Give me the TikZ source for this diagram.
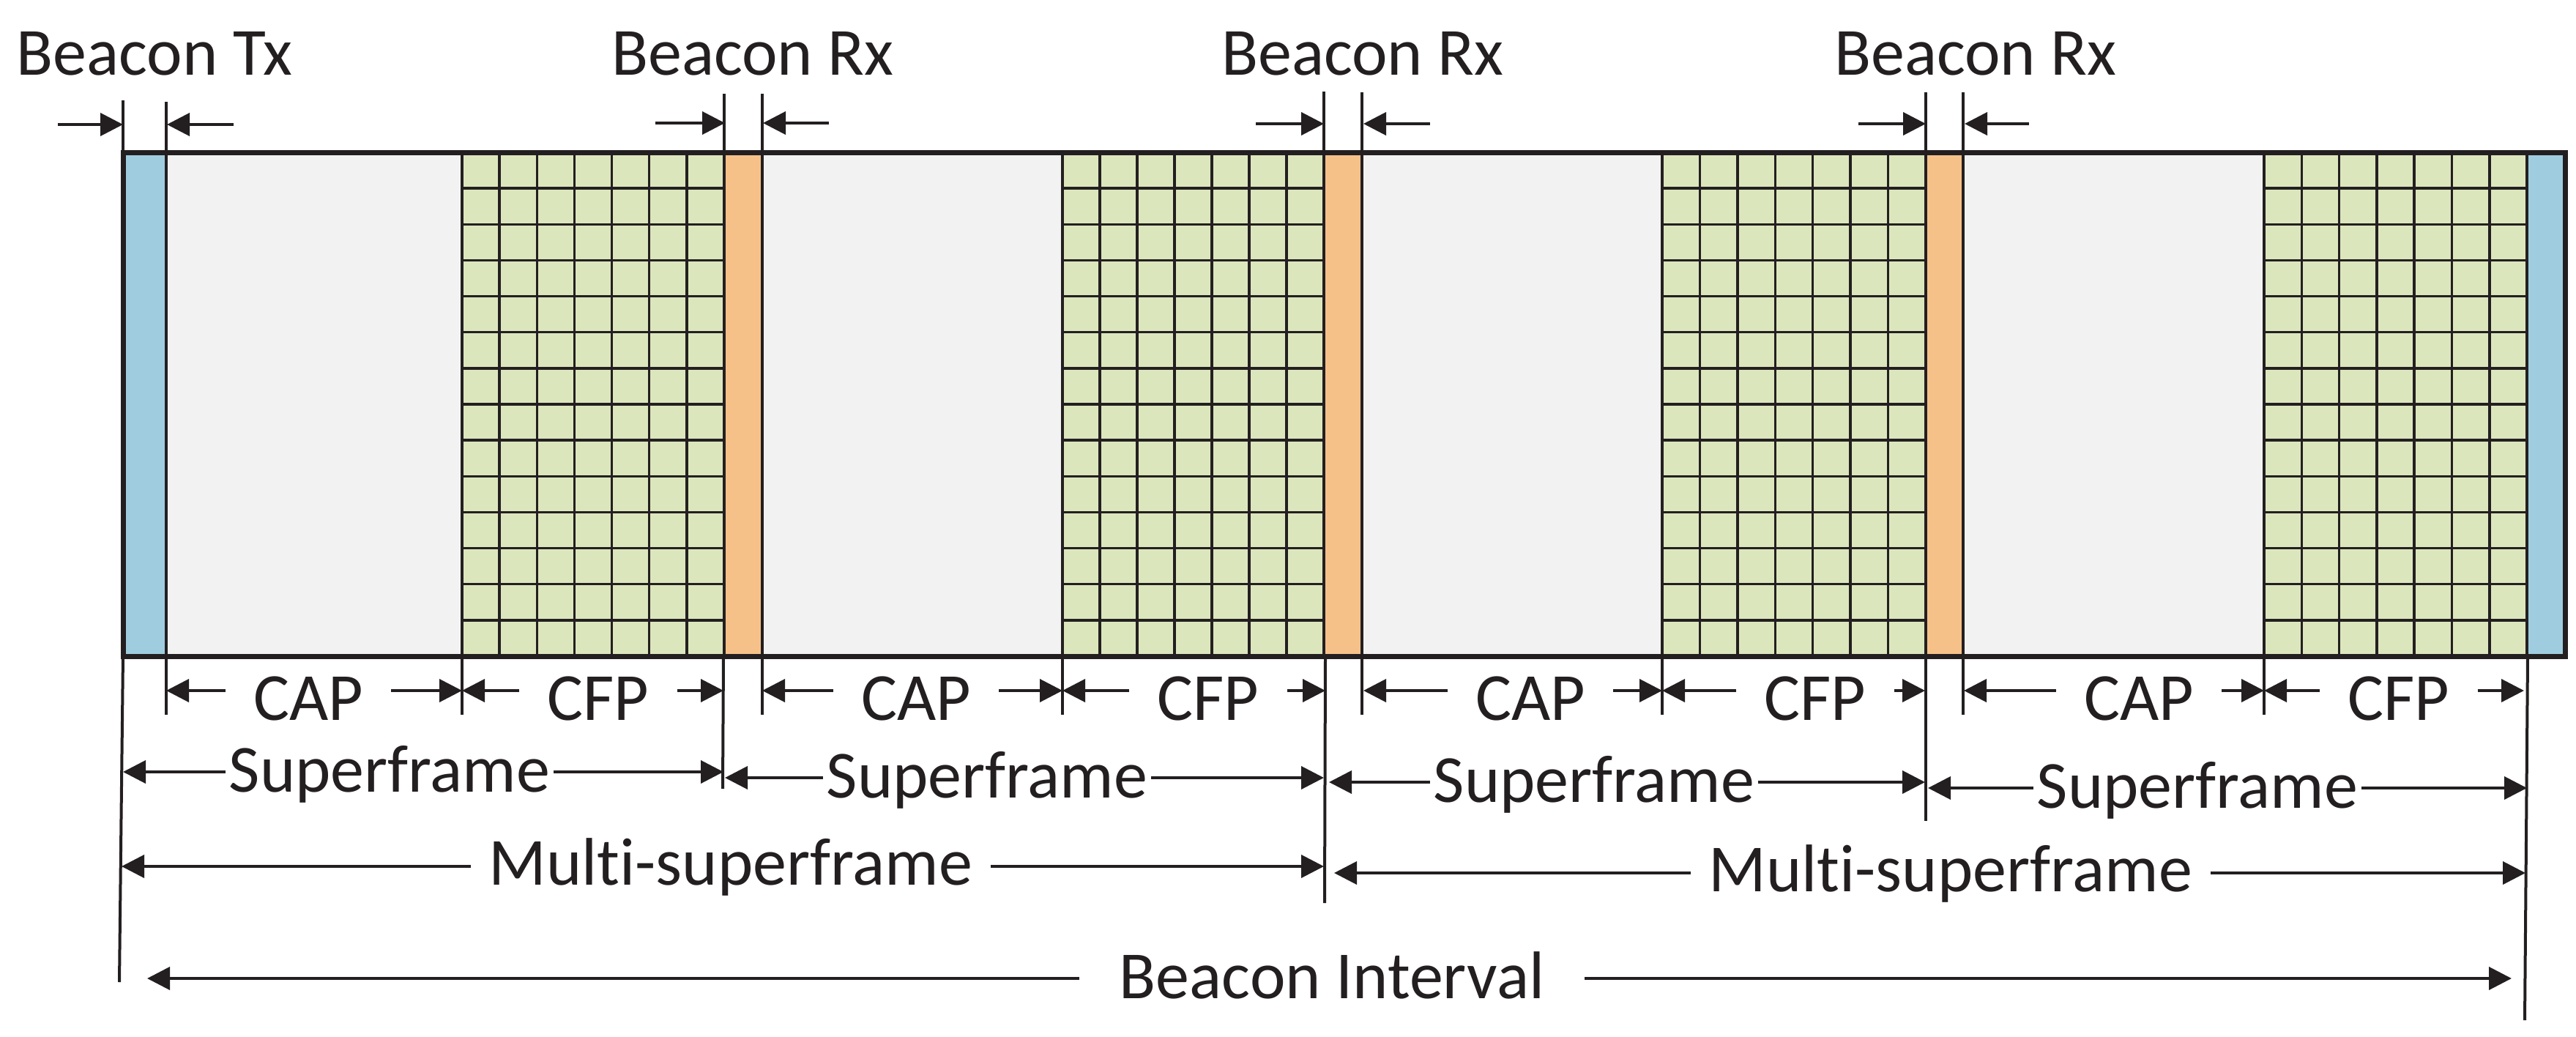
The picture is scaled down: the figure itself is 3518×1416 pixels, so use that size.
\documentclass[tikz,border=0pt]{standalone}
\usepackage{fontspec}
\setmainfont{Carlito}[Ligatures={NoCommon}]
\usetikzlibrary{arrows.meta}
\definecolor{ink}{HTML}{231F20}
\definecolor{bcn}{HTML}{9FCDDF}
\definecolor{rxc}{HTML}{F6C189}
\definecolor{cfpc}{HTML}{DCE6BD}
\definecolor{capc}{HTML}{F2F2F2}
\tikzset{
  lbl/.style={font=\fontsize{92}{104}\selectfont, text=ink, inner sep=0pt, anchor=base, text depth=0pt},
  dim/.style={draw=ink, line width=4pt, -{Triangle[length=31pt,width=31pt]}},
  ext/.style={draw=ink, line width=4pt},
  seg/.style={draw=ink, line width=4pt},
  gridline/.style={draw=ink, line width=3.5pt},
  rowA/.style={text height=80pt, inner xsep=38pt},
  rowB/.style={text height=54pt, inner xsep=5pt},
  rowC/.style={text height=50pt, inner xsep=25pt},
  rowD/.style={text height=54pt, inner xsep=55pt},
}
\begin{document}
\begin{tikzpicture}[x=1pt,y=-1pt]
\useasboundingbox[fill=white] (0,0) rectangle (3518,1416);

% ---- frame segments ----
\draw[seg, fill=bcn] (168,208) rectangle (227,896);
\draw[seg, fill=bcn] (3451,208) rectangle (3503,896);
\foreach \a/\b in {227/631,1041/1451,1860/2270,2681/3092}
  \draw[seg, fill=capc] (\a,208) rectangle (\b,896);
\foreach \a/\b in {989/1041,1808/1860,2630/2681}
  \draw[seg, fill=rxc] (\a,208) rectangle (\b,896);
\foreach \a/\b in {631/989,1451/1808,2270/2630,3092/3451}{
  \draw[seg, fill=cfpc] (\a,208) rectangle (\b,896);
  \foreach \i in {1,...,6}
    \draw[gridline] ({\a+\i*(\b-\a)/7},208) -- ({\a+\i*(\b-\a)/7},896);
  \foreach \j in {1,...,13}
    \draw[gridline] (\a,{208+\j*688/14}) -- (\b,{208+\j*688/14});
}
\draw[draw=ink, line width=7pt] (168,208) rectangle (3503,896);

% ---- top labels ----
\node[lbl] (tx)  at (211,102)  {Beacon Tx};
\node[lbl] (rx1) at (1028,102) {Beacon Rx};
\node[lbl] (rx2) at (1861,102) {Beacon Rx};
\node[lbl] (rx3) at (2698,102) {Beacon Rx};

\foreach \x/\t in {168/137,227/139,989/128,1041/128,1808/125,1860/126,2630/126,2681/126}
  \draw[ext] (\x,\t) -- (\x,225);

\foreach \n/\a/\b/\c/\d/\y in {tx/79/168/228/319/170, ra/895/990/1042/1132/168, rb/1715/1808/1862/1953/169, rc/2538/2630/2683/2771/169}{
  \coordinate (\n tl) at (\a,\y);
  \coordinate (\n pl) at (\b,\y);
  \coordinate (\n pr) at (\c,\y);
  \coordinate (\n tr) at (\d,\y);
  \draw[dim] (\n tl) -- (\n pl);
  \draw[dim] (\n tr) -- (\n pr);
}

% ---- bottom extension lines ----
\draw[ext] (168,896) -- (163,1341);
\draw[ext] (988,896) -- (987,1077);
\draw[ext] (1810,896) -- (1809,1233);
\draw[ext] (2630,896) -- (2630,1121);
\draw[ext] (3452,896) -- (3448,1393);
\foreach \x in {227,631,1041,1451,1860,2270,2681,3092}
  \draw[ext] (\x,896) -- (\x,976);

% ---- CAP / CFP row ----
\foreach \n/\t/\x/\l/\r in {cap1/CAP/421/227/631, cfp1/CFP/817/631/988, cap2/CAP/1251/1041/1451, cfp2/CFP/1650/1451/1810, cap3/CAP/2090/1862/2270, cfp3/CFP/2479/2270/2629, cap4/CAP/2921/2682/3092, cfp4/CFP/3276/3092/3447}{
  \node[lbl, rowA] (\n) at (\x,983) {\t};
  \coordinate (\n L) at (\l,943);
  \coordinate (\n R) at (\r,943);
  \draw[dim] (\n.west) -- (\n L);
  \draw[dim] (\n.east) -- (\n R);
}

% ---- Superframe row ----
\foreach \n/\x/\y/\l/\r in {sf1/532/1054/168/988, sf2/1348/1062/990/1808, sf3/2177/1068/1815/2629, sf4/3001/1076/2633/3451}{
  \node[lbl, rowB] (\n) at (\x,\y+27) {Superframe};
  \coordinate (\n L) at (\l,\y);
  \coordinate (\n R) at (\r,\y);
  \draw[dim] (\n.west) -- (\n L);
  \draw[dim] (\n.east) -- (\n R);
}

% ---- Multi-superframe row ----
\foreach \n/\x/\y/\l/\r in {ms1/998/1183/166/1808, ms2/2664/1192/1822/3449}{
  \node[lbl, rowC] (\n) at (\x,\y+25) {Multi-superframe};
  \coordinate (\n L) at (\l,\y);
  \coordinate (\n R) at (\r,\y);
  \draw[dim] (\n.west) -- (\n L);
  \draw[dim] (\n.east) -- (\n R);
}

% ---- Beacon Interval row ----
\node[lbl, rowD] (bi) at (1819,1363) {Beacon Interval};
\coordinate (biL) at (201,1336);
\coordinate (biR) at (3430,1336);
\draw[dim] (bi.west) -- (biL);
\draw[dim] (bi.east) -- (biR);
\end{tikzpicture}
\end{document}
